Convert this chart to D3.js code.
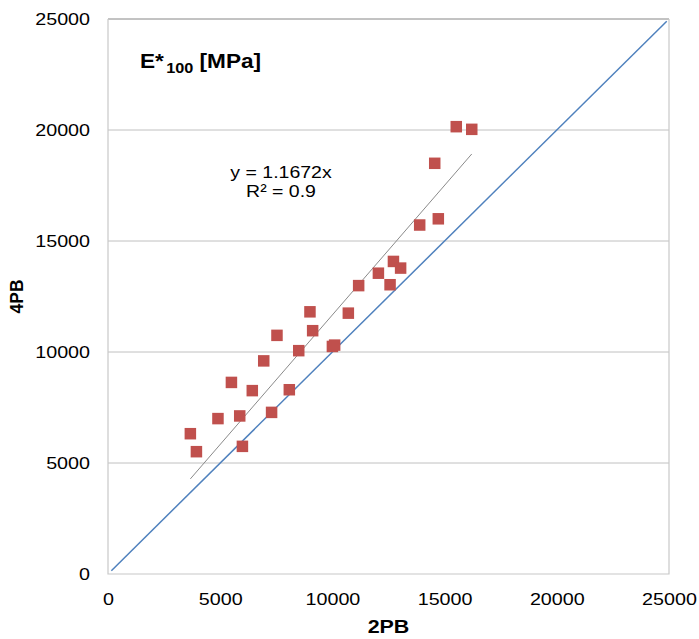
<!DOCTYPE html>
<html>
<head>
<meta charset="utf-8">
<script src="https://cdn.jsdelivr.net/npm/d3@7"></script>
<style>
  body { margin: 0; background: #fff; }
  text { font-family: "Liberation Sans", Arial, sans-serif; fill: #000; }
</style>
</head>
<body>
<script>
var x2PB = [3670, 3940, 4900, 5500, 5870, 5990, 6430, 6940, 7290, 7530,
            8080, 8500, 9000, 9120, 10000, 10100, 10710, 11170, 12050, 12570,
            12720, 13040, 13890, 14720, 14560, 15520, 16210];
var y4PB = [6320, 5510, 7000, 8630, 7120, 5750, 8260, 9600, 7280, 10750,
            8300, 10060, 11810, 10960, 10250, 10310, 11750, 12990, 13550, 13030,
            14080, 13780, 15720, 16000, 18500, 20150, 20030];
var slope = 1.1672;               // trendline y = 1.1672x
var identity = [150, 24900];      // y = x reference line
var ticks = [0, 5000, 10000, 15000, 20000, 25000];

var width = 699, height = 639;
var margin = {top: 19, right: 30, bottom: 65, left: 108};
var w = width - margin.left - margin.right;
var h = height - margin.top - margin.bottom;
var stretch = 1.16;   // the original text is a bit wide, like a stretched Arial

var svg = d3.select("body").append("svg")
    .attr("width", width)
    .attr("height", height);

var g = svg.append("g")
    .attr("transform", "translate(" + margin.left + "," + margin.top + ")");

var x = d3.scaleLinear().domain([0, 25000]).range([0, w]);
var y = d3.scaleLinear().domain([0, 25000]).range([h, 0]);

// horizontal gridlines
g.selectAll(".grid")
    .data(ticks.slice(1))
    .enter().append("line")
    .attr("x1", 0).attr("x2", w)
    .attr("y1", function(d) { return y(d); })
    .attr("y2", function(d) { return y(d); })
    .attr("stroke", function(d) { return d === 25000 ? "#868686" : "#c0c0c0"; })
    .attr("stroke-width", 1);

// plot frame (left, right, bottom)
g.append("path")
    .attr("d", "M0,0V" + h + "H" + w + "V0")
    .attr("fill", "none")
    .attr("stroke", "#c8c8c8")
    .attr("stroke-width", 1.2);

// axes
var xAxis = g.append("g")
    .attr("transform", "translate(0," + h + ")")
    .call(d3.axisBottom(x).tickValues(ticks).tickFormat(d3.format("d")).tickSize(0).tickPadding(19));
var yAxis = g.append("g")
    .call(d3.axisLeft(y).tickValues(ticks).tickFormat(d3.format("d")).tickSize(0).tickPadding(15.5));
[xAxis, yAxis].forEach(function(a) {
  a.select(".domain").remove();
  a.selectAll("text")
    .style("font-family", "'Liberation Sans', Arial, sans-serif")
    .style("font-size", "17px")
    .attr("fill", "#000")
    .attr("transform", "scale(" + stretch + ",1)");
});

// y = x line
g.append("line")
    .attr("x1", x(identity[0])).attr("y1", y(identity[0]))
    .attr("x2", x(identity[1])).attr("y2", y(identity[1]))
    .attr("stroke", "#4f81bd")
    .attr("stroke-width", 1.5);

// trendline over data range
var xr = d3.extent(x2PB);
g.append("line")
    .attr("x1", x(xr[0])).attr("y1", y(xr[0] * slope))
    .attr("x2", x(xr[1])).attr("y2", y(xr[1] * slope))
    .attr("stroke", "#8a8a8a")
    .attr("stroke-width", 1);

// points
var s = 11.5;
g.selectAll(".pt")
    .data(x2PB)
    .enter().append("rect")
    .attr("class", "pt")
    .attr("x", function(d) { return x(d) - s / 2; })
    .attr("y", function(d, i) { return y(y4PB[i]) - s / 2; })
    .attr("width", s).attr("height", s)
    .attr("fill", "#c0504d");

function label(parent, tx, ty, size, str, bold, rot) {
  var t = parent.append("text")
      .attr("transform", "translate(" + tx + "," + ty + ")" +
            (rot ? " rotate(-90)" : " scale(" + stretch + ",1)"))
      .attr("text-anchor", "middle")
      .style("font-size", size + "px");
  if (bold) t.style("font-weight", "bold");
  if (str) t.text(str);
  return t;
}

// equation labels
label(g, 173, 159, 16.8, "y = 1.1672x");
label(g, 173, 178, 16.8, "R² = 0.9");

// title
var title = g.append("text")
    .attr("transform", "translate(32,49) scale(" + stretch + ",1)")
    .style("font-size", "19.5px")
    .style("font-weight", "bold");
title.append("tspan").text("E*");
title.append("tspan").attr("dx", 2).attr("dy", 5).style("font-size", "14px").text("100");
title.append("tspan").attr("dy", -5).text(" [MPa]");

// axis titles
label(svg, margin.left + w / 2, 633, 18.5, "2PB", true);
label(svg, 23, margin.top + h / 2, 17.5, "4PB", true, true);
</script>
</body>
</html>
